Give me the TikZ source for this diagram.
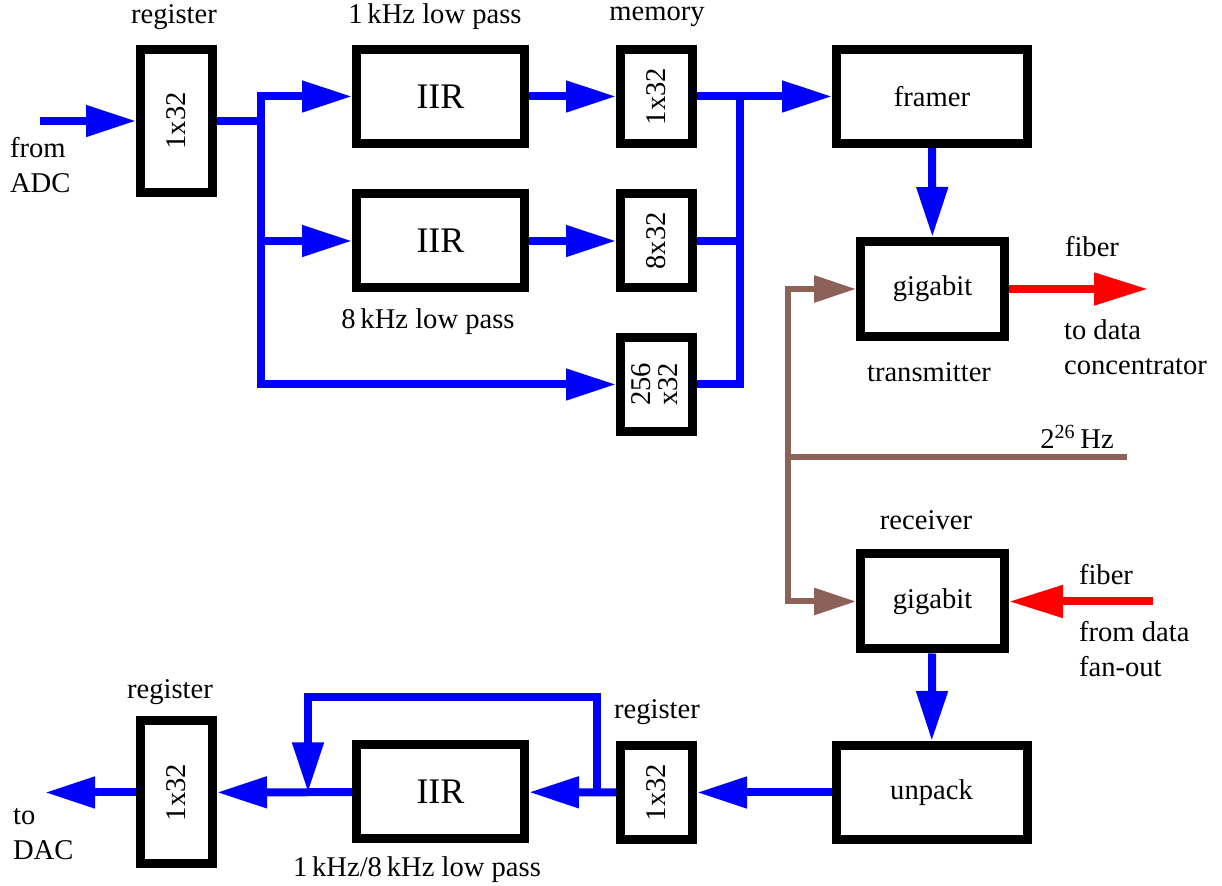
\documentclass[tikz,border=0pt]{standalone}
\usepackage{fontspec}
\setmainfont{Liberation Serif}
\usetikzlibrary{arrows.meta}
\definecolor{clockbrown}{RGB}{140,98,88}
\begin{document}
\begin{tikzpicture}[x=0.5pt,y=-0.5pt,>={Triangle[length=25pt,width=15pt]},
  font=\fontsize{14.3pt}{17.5pt}\selectfont,
  block/.style={draw,line width=4.5pt,inner sep=0pt,minimum height=47pt},
  reg node/.style={block,minimum width=36pt,minimum height=71.5pt},
  mem node/.style={block,minimum width=36pt},
  iir node/.style={block,minimum width=84pt,font=\fontsize{18pt}{20pt}\selectfont},
  wide node/.style={block,minimum width=95.5pt},
  giga node/.style={block,minimum width=72pt,minimum height=47.5pt},
  flow/.style={blue,line width=4pt},
  fiber/.style={red,line width=4pt,>={Triangle[length=27pt,width=15.5pt]}},
  clock/.style={clockbrown,line width=3pt,>={Triangle[length=21pt,width=13pt]}}]
  \useasboundingbox (0,0) rectangle (1222,886);

  \node[reg node] (reg1) at (176.5,121) {\rotatebox{90}{1x32}};
  \node[iir node] (iir1) at (440.5,96.5) {IIR};
  \node[iir node] (iir2) at (440.5,241) {IIR};
  \node[mem node] (mem1) at (656.5,96.5) {\rotatebox{90}{1x32}};
  \node[mem node] (mem2) at (656.5,241) {\rotatebox{90}{8x32}};
  \node[mem node] (mem3) at (656.5,384.5) {\rotatebox{90}{\begin{tabular}{@{}c@{}}256\\[-4pt]x32\end{tabular}}};
  \node[wide node] (framer) at (932,96.5) {framer};
  \node[giga node] (tx) at (932.5,289) {gigabit};
  \node[giga node] (rx) at (932.5,601.5) {gigabit};
  \node[wide node] (unpack) at (931.5,792.5) {unpack};
  \node[mem node] (reg2) at (656.5,792.5) {\rotatebox{90}{1x32}};
  \node[iir node] (iir3) at (440.5,792) {IIR};
  \node[reg node] (reg3) at (176.5,792.5) {\rotatebox{90}{1x32}};

  \coordinate (adc) at (40,121);
  \coordinate (fork) at (261,121);
  \coordinate (merge) at (740,241);
  \coordinate (fiberout) at (1148,289);
  \coordinate (clk) at (788,457);
  \coordinate (clkin) at (1127,457);
  \coordinate (fiberin) at (1153,601.5);
  \coordinate (tapR) at (597,792.5);
  \coordinate (loop) at (450,697);
  \coordinate (tapL) at (308,792.5);
  \coordinate (dac) at (45,792.5);

  % input side
  \draw[flow,->] (adc) -- (reg1);
  \draw[flow] (reg1) -- (fork);
  \draw[flow,<->] (iir1.west) -| (fork |- mem3) -- (mem3.west);
  \draw[flow,->] (fork |- iir2) -- (iir2);
  \draw[flow,->] (iir1) -- (mem1);
  \draw[flow,->] (iir2) -- (mem2);
  \draw[flow,->] (mem1) -- (framer);
  \draw[flow] (mem2) -- (merge);
  \draw[flow] (mem3.east) -| (merge |- mem1);
  \draw[flow,->] (framer) -- (tx);
  \draw[fiber,->] (tx) -- (fiberout);

  % clock
  \draw[clock,<->] (tx.west) -| (clk |- rx) -- (rx.west);
  \draw[clock] (clk) -- (clkin);

  % output side
  \draw[fiber,->] (fiberin) -- (rx);
  \draw[flow,->] (rx) -- (unpack);
  \draw[flow,->] (unpack) -- (reg2);
  \draw[flow,->] (reg2) -- (iir3);
  \draw[flow,->] (tapR) |- (loop) -| (tapL);
  \draw[flow,->] (iir3) -- (reg3);
  \draw[flow,->] (reg3) -- (dac);

  \node (lreg1) at (174,17) {register};
  \node (llp1) at (435,17) {1\,kHz low pass};
  \node (lmem) at (657,17) {memory};
  \node (llp8) at (428,322) {8\,kHz low pass};
  \node[align=left,anchor=west] (ladc) at (3,165) {from\\ADC};
  \node (lfib1) at (1092,247) {fiber};
  \node[align=left,anchor=west] (lconc) at (1057,347) {to data\\concentrator};
  \node (ltx) at (929,372) {transmitter};
  \node (lclk) at (1077,437) {2\textsuperscript{26}\,Hz};
  \node (lrx) at (926,520) {receiver};
  \node (lfib2) at (1106,575) {fiber};
  \node[align=left,anchor=west] (lfan) at (1072,649) {from data\\fan-out};
  \node (lreg2) at (657,712) {register};
  \node (lreg3) at (170,692) {register};
  \node (llpb) at (417,870) {1\,kHz/8\,kHz low pass};
  \node[align=left,anchor=west] (ldac) at (6,834) {to\\DAC};
\end{tikzpicture}
\end{document}
